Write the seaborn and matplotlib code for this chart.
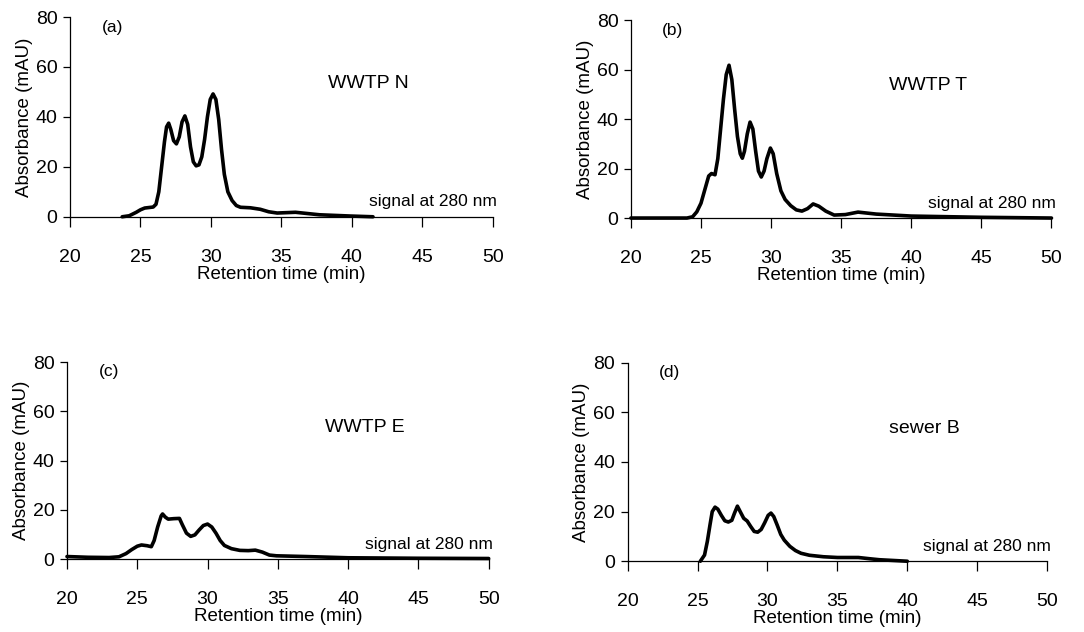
import matplotlib
matplotlib.use("Agg")
import matplotlib.pyplot as plt
import seaborn as sns
import pandas as pd

# retention time (min) / absorbance (mAU)
t_a = [23.7, 24.2, 24.7, 25.0, 25.3, 25.6, 25.9, 26.1, 26.3, 26.5, 26.7, 26.85, 27.0,
       27.15, 27.35, 27.55, 27.75, 27.95, 28.15, 28.35, 28.55, 28.75, 28.95, 29.15,
       29.35, 29.55, 29.75, 29.95, 30.15, 30.35, 30.55, 30.75, 30.95, 31.2, 31.5,
       31.8, 32.1, 32.8, 33.5, 34.1, 34.7, 36.0, 37.7, 39.9, 41.5]
y_a = [0.0, 0.4, 1.8, 2.8, 3.5, 3.7, 3.9, 5.0, 10.0, 20.0, 30.0, 36.0, 37.5,
       35.0, 30.5, 29.2, 32.0, 38.0, 40.4, 37.0, 28.0, 22.0, 20.4, 20.8,
       24.0, 31.0, 40.0, 47.0, 49.2, 47.0, 39.0, 27.0, 17.0, 10.0, 6.5,
       4.5, 3.8, 3.6, 3.0, 2.0, 1.5, 1.8, 0.8, 0.3, 0.0]

t_b = [20.0, 22.0, 24.0, 24.4, 24.7, 25.0, 25.3, 25.55, 25.75, 26.0, 26.2, 26.4, 26.6,
       26.8, 27.0, 27.2, 27.4, 27.6, 27.8, 27.95, 28.1, 28.3, 28.5, 28.7, 28.9, 29.1,
       29.3, 29.5, 29.7, 29.95, 30.15, 30.4, 30.7, 31.0, 31.4, 31.8, 32.2, 32.6, 33.0,
       33.4, 33.9, 34.5, 35.3, 36.2, 37.5, 40.0, 45.0, 50.0]
y_b = [0.0, 0.0, 0.0, 0.5, 2.5, 6.0, 12.0, 17.0, 18.0, 17.5, 24.0, 36.0, 48.0,
       58.0, 61.8, 56.0, 44.0, 33.0, 26.0, 24.2, 27.0, 34.0, 38.8, 36.0, 27.0, 19.0,
       16.6, 19.0, 24.0, 28.3, 26.0, 18.0, 11.0, 7.5, 5.0, 3.3, 2.8, 3.8, 5.7,
       4.8, 2.8, 1.2, 1.4, 2.4, 1.6, 0.8, 0.3, 0.0]

t_c = [20.0, 21.5, 23.0, 23.7, 24.2, 24.6, 25.0, 25.3, 25.7, 26.0, 26.2, 26.45, 26.7,
       26.8, 27.0, 27.2, 27.6, 28.0, 28.2, 28.5, 28.8, 29.1, 29.4, 29.7, 30.0, 30.3,
       30.6, 30.9, 31.2, 31.7, 32.3, 32.9, 33.4, 33.9, 34.4, 34.9, 37.0, 40.0, 45.0, 50.0]
y_c = [1.0, 0.7, 0.6, 0.9, 2.2, 3.8, 5.2, 5.7, 5.4, 5.0, 7.5, 13.0, 17.5,
       18.3, 17.0, 16.2, 16.4, 16.5, 14.0, 10.5, 9.2, 9.8, 11.8, 13.6, 14.2, 13.0,
       10.5, 7.5, 5.5, 4.2, 3.5, 3.4, 3.6, 2.8, 1.6, 1.3, 1.0, 0.5, 0.3, 0.2]

t_d = [25.2, 25.5, 25.7, 25.9, 26.05, 26.25, 26.45, 26.7, 26.95, 27.2, 27.45, 27.65,
       27.85, 28.05, 28.3, 28.55, 28.8, 29.05, 29.3, 29.55, 29.8, 30.05, 30.25, 30.45,
       30.7, 30.95, 31.2, 31.6, 32.0, 32.4, 33.0, 34.0, 35.0, 36.5, 37.3, 38.0, 39.0, 40.0]
y_d = [0.0, 2.5, 8.0, 15.0, 20.0, 21.8, 21.0, 18.5, 16.3, 15.8, 16.5, 19.5,
       22.2, 20.0, 17.3, 16.2, 14.0, 12.0, 11.7, 12.8, 15.5, 18.5, 19.4, 18.0,
       14.5, 10.8, 8.5, 6.0, 4.3, 3.2, 2.4, 1.8, 1.5, 1.5, 1.0, 0.6, 0.3, 0.0]

panel_tags = ["(a)", "(b)", "(c)", "(d)"]
sample_names = ["WWTP N", "WWTP T", "WWTP E", "sewer B"]
x_ticks = [20, 25, 30, 35, 40, 45, 50]
y_ticks = [0, 20, 40, 60, 80]

series = [(t_a, y_a), (t_b, y_b), (t_c, y_c), (t_d, y_d)]

sns.set_style("ticks")
plt.rcParams['font.family'] = ['Liberation Sans', 'DejaVu Sans']
plt.rcParams['text.color'] = 'black'
plt.rcParams['axes.labelcolor'] = 'black'

fig = plt.figure(figsize=(10.84, 6.32), dpi=100)
boxes = [
    [0.0646, 0.657, 0.390, 0.316],
    [0.582, 0.655, 0.388, 0.313],
    [0.0618, 0.1155, 0.389, 0.3115],
    [0.579, 0.112, 0.387, 0.314],
]

for i, (box, (t, y)) in enumerate(zip(boxes, series)):
    ax = fig.add_axes(box)
    df = pd.DataFrame({"time": t, "abs": y})
    sns.lineplot(data=df, x="time", y="abs", ax=ax, color="black", linewidth=2.6,
                 clip_on=False, zorder=3, solid_joinstyle="round", solid_capstyle="round")
    ax.set_xlim(20, 50)
    ax.set_ylim(0, 80)
    ax.set_xticks(x_ticks)
    ax.set_yticks(y_ticks)
    sns.despine(ax=ax)
    for s in ["left", "bottom"]:
        ax.spines[s].set_linewidth(0.9)
        ax.spines[s].set_color("black")
    ax.tick_params(axis="x", direction="out", length=7, width=0.9, pad=16,
                   labelsize=14, colors="black")
    ax.tick_params(axis="y", direction="out", length=5, width=0.9, pad=4,
                   labelsize=14, colors="black")
    ax.set_xlabel("Retention time (min)", fontsize=13.5, labelpad=0)
    ax.set_ylabel("Absorbance (mAU)", fontsize=13.5, labelpad=2)
    ax.text(23.0, 76, panel_tags[i], fontsize=12.5, ha="center", va="center")
    ax.text(41.2, 53.5, sample_names[i], fontsize=14, ha="center", va="center")
    ax.text(50.3, 6, "signal at 280 nm", fontsize=12.5, ha="right", va="center")

fig.savefig("out.png", dpi=100)
